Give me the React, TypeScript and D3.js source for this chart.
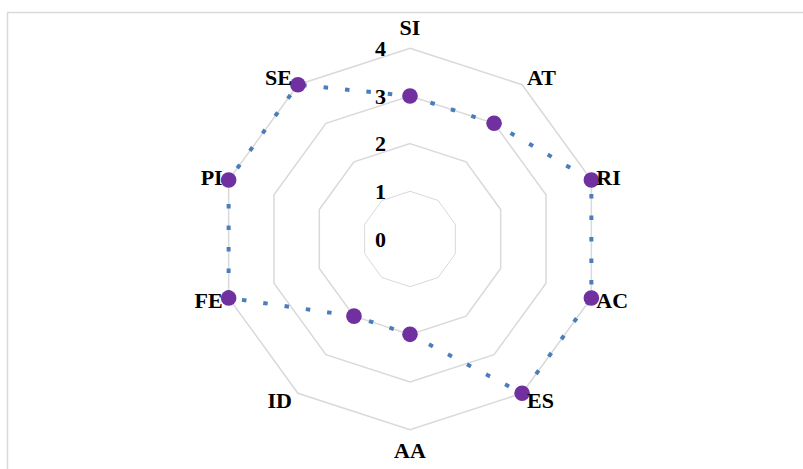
import React from "react";
import * as d3 from "d3";

const categories = ["SI", "AT", "RI", "AC", "ES", "AA", "ID", "FE", "PI", "SE"];
const values = [3, 3, 4, 4, 4, 2, 2, 4, 4, 4];
const ticks = [0, 1, 2, 3, 4];

const W = 803;
const H = 469;
const cx = 410;
const cy = 239;
const R = 190.7;

export default function App() {
  const r = d3.scaleLinear().domain([0, 4]).range([0, R]);
  const angle = d3
    .scaleLinear()
    .domain([0, categories.length])
    .range([0, 2 * Math.PI]);

  const pt = (i: number, v: number) => {
    const a = angle(i);
    return [cx + r(v) * Math.sin(a), cy - r(v) * Math.cos(a)];
  };

  const radial = d3
    .lineRadial<number>()
    .angle((_, i) => angle(i))
    .radius((d) => r(d))
    .curve(d3.curveLinearClosed);

  const font = "'Liberation Serif', 'Times New Roman', serif";

  return (
    <svg
      width={W}
      height={H}
      style={{ position: "absolute", left: 0, top: 0, background: "#fff" }}
    >
      <rect x={7.5} y={12.5} width={W + 20} height={H + 20} fill="#fff" stroke="#d9d9d9" strokeWidth={1.5} />
      <g transform={`translate(${cx},${cy})`}>
        {ticks
          .filter((t) => t > 0)
          .map((t) => (
            <path
              key={t}
              d={radial(categories.map(() => t)) || ""}
              fill="none"
              stroke="#d9d9d9"
              strokeWidth={t === 1 ? 1 : 1.5}
            />
          ))}
        <path
          d={radial(values) || ""}
          fill="none"
          stroke="#4a7ebb"
          strokeWidth={4}
          strokeDasharray="4.5 17"
        />
      </g>
      {values.map((v, i) => {
        const [x, y] = pt(i, v);
        return <circle key={i} cx={x} cy={y} r={7.8} fill="#7030a0" />;
      })}
      {ticks.map((t) => (
        <text
          key={t}
          x={cx - 24}
          y={cy - r(t)}
          dy="0.35em"
          textAnchor="end"
          fontFamily={font}
          fontWeight="bold"
          fontSize={22}
          fill="#000"
        >
          {t}
        </text>
      ))}
      {categories.map((c, i) => {
        const a = angle(i);
        const s = Math.sin(a);
        const co = Math.cos(a);
        const [x, y] = pt(i, 4);
        const middle = Math.abs(s) < 0.1;
        const anchor = middle ? "middle" : s > 0 ? "start" : "end";
        const dx = middle ? 0 : s > 0 ? 5 : -6;
        const dyv = middle ? -co * 21 : -co * 9;
        return (
          <text
            key={c}
            x={x + dx}
            y={y + dyv}
            dy="0.35em"
            textAnchor={anchor}
            fontFamily={font}
            fontWeight="bold"
            fontSize={22}
            fill="#000"
          >
            {c}
          </text>
        );
      })}
    </svg>
  );
}
